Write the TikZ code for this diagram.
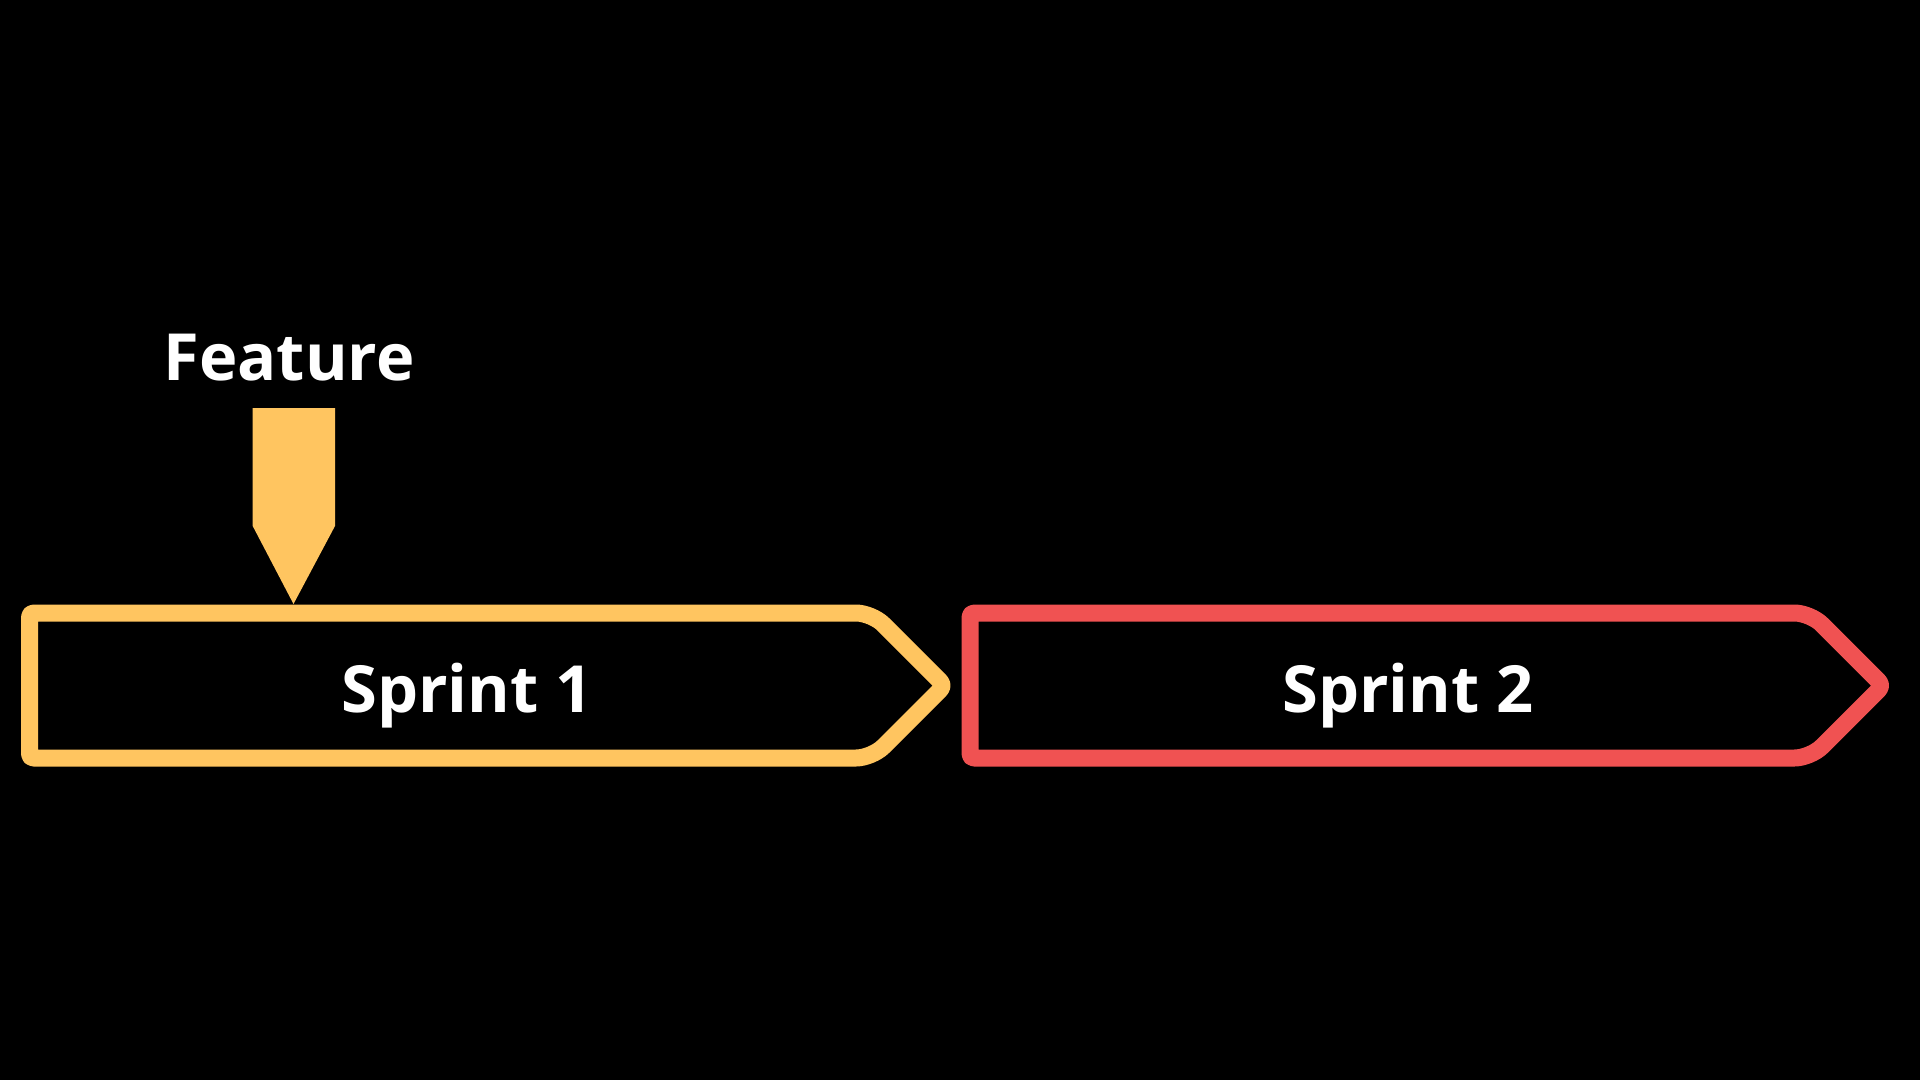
\documentclass[tikz,border=0pt]{standalone}
\usepackage{fontspec}
\setmainfont{Open Sans}
\definecolor{yel}{HTML}{FFC560}
\definecolor{rd}{HTML}{F05252}
\begin{document}
\begin{tikzpicture}[x=1pt,y=-1pt,
  sprintbox/.style={line width=17pt, line join=round},
  txt/.style={text=white, font=\fontsize{65}{78}\selectfont\bfseries, anchor=base, inner sep=0pt}]
\fill[black] (0,0) rectangle (1920,1080);
\useasboundingbox (0,0) rectangle (1920,1080);
% Sprint 1
\draw[sprintbox, draw=yel] (450,613) [rounded corners=16pt] -- (872,613) [rounded corners=6pt] -- (944.5,685.5) [rounded corners=16pt] -- (872,758) [rounded corners=4pt] -- (29.5,758) -- (29.5,613) -- cycle;
% Sprint 2
\draw[sprintbox, draw=rd] (1390,613) [rounded corners=16pt] -- (1810.5,613) [rounded corners=6pt] -- (1883,685.5) [rounded corners=16pt] -- (1810.5,758) [rounded corners=4pt] -- (970,758) -- (970,613) -- cycle;
% Feature marker
\coordinate (tip) at (293.5,604);
\fill[yel] (252.7,408) -- (335,408) -- (335,526) -- (tip) -- (252.7,526) -- cycle;
\node[txt] (feat) at (289,380) {Feature};
\node[txt] (s1) at (467,712) {Sprint 1};
\node[txt] (s2) at (1408,712) {Sprint 2};
\end{tikzpicture}
\end{document}
